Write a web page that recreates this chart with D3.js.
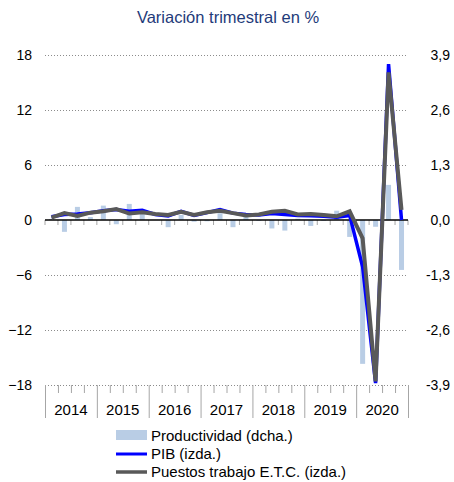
<!DOCTYPE html>
<html><head><meta charset="utf-8">
<script src="https://cdn.jsdelivr.net/npm/d3@7"></script>
<style>body{margin:0;background:#fff;font-family:"Liberation Sans",Arial,sans-serif}</style>
</head><body><svg id="c" width="454" height="482"></svg>
<script>
const years = ["2014","2015","2016","2017","2018","2019","2020"];
const quarters = years.flatMap(y => ["T1","T2","T3","T4"].map(q => y + q));
const pib = [0.35,0.6,0.65,0.8, 1.0,1.15,0.95,1.05, 0.6,0.45,0.95,0.5, 0.8,1.15,0.75,0.6, 0.55,0.7,0.6,0.5, 0.45,0.4,0.3,0.5, -5.1,-17.8,17.0,0.0];
const empleo = [0.25,0.75,0.45,0.8, 0.95,1.2,0.7,0.85, 0.65,0.55,0.9,0.55, 0.85,1.0,0.75,0.5, 0.6,0.9,1.0,0.6, 0.65,0.55,0.4,0.95, -2.0,-17.6,16.1,1.1];
const productividad = [0.02,-0.28,0.31,0.07, 0.34,-0.1,0.38,0.14, 0.0,-0.17,0.12,-0.04, -0.03,0.16,-0.17,0.08, -0.02,-0.2,-0.25,0.03, -0.14,-0.02,0.22,-0.4, -3.4,-0.16,0.83,-1.18];
const leftTicks = [-18,-12,-6,0,6,12,18];
const rightTicks = [-3.9,-2.6,-1.3,0,1.3,2.6,3.9];
const legendLabels = ["Productividad (dcha.)","PIB (izda.)","Puestos trabajo E.T.C. (izda.)"];
const titleText = "Variación trimestral en %";

const svg = d3.select("#c");
const X0 = 45, X1 = 408, YT = 55, YB = 385;
const x = d3.scaleBand().domain(quarters).range([X0, X1]);
const yL = d3.scaleLinear().domain([-18,18]).range([YB, YT]);
const yR = d3.scaleLinear().domain([-3.9,3.9]).range([YB, YT]);
const blue = "#0000FF", gray = "#595959", barC = "#B9CDE5";

svg.append("text").attr("x",228).attr("y",23).attr("text-anchor","middle")
  .attr("font-size",16.5).attr("fill","#1F3B7A").text(titleText);

// gridlines
svg.append("g").selectAll("line").data(leftTicks.filter(d => d !== 0)).join("line")
  .attr("x1",X0).attr("x2",X1).attr("y1",d=>yL(d)+0.5).attr("y2",d=>yL(d)+0.5)
  .attr("stroke","#8c8c8c").attr("stroke-width",1).attr("stroke-dasharray","1,2");

// left axis
const gl = svg.append("g").attr("transform",`translate(${X0},0)`)
  .call(d3.axisLeft(yL).tickValues(leftTicks).tickSize(0).tickPadding(13).tickFormat(d3.format("d")));
gl.select(".domain").remove();
gl.selectAll("text").attr("font-size",14).attr("fill","#000").attr("font-family","Liberation Sans, Arial");

// right axis
const gr = svg.append("g").attr("transform",`translate(${X1},0)`)
  .call(d3.axisRight(yR).tickValues(rightTicks).tickSize(0).tickFormat(d => d3.format(".1f")(d).replace(".",",").replace("−","-")));
gr.select(".domain").remove();
gr.selectAll("text").attr("x",42).attr("text-anchor","end").attr("font-size",14).attr("fill","#000").attr("font-family","Liberation Sans, Arial");

// bars
const bw = 5;
svg.append("g").selectAll("rect").data(productividad).join("rect")
  .attr("x",(d,i)=>x(quarters[i]) + x.bandwidth()/2 - bw/2)
  .attr("width",bw)
  .attr("y",d=>Math.min(yR(d),yR(0)))
  .attr("height",d=>Math.abs(yR(d)-yR(0)))
  .attr("fill",barC);

// zero line with ticks
const boundaries = quarters.map(q => x(q)).concat([X1]);
svg.append("g").selectAll("line").data(boundaries).join("line")
  .attr("x1",d=>d).attr("x2",d=>d).attr("y1",yL(0)).attr("y2",yL(0)+5)
  .attr("stroke","#a6a6a6").attr("stroke-width",1);
svg.append("line").attr("x1",X0).attr("x2",X1).attr("y1",yL(0)).attr("y2",yL(0))
  .attr("stroke","#000").attr("stroke-width",1.5);

// bottom ticks
svg.append("g").selectAll("line").data(boundaries).join("line")
  .attr("x1",d=>d+0.5).attr("x2",d=>d+0.5).attr("y1",YB)
  .attr("y2",(d,i)=> i%4===0 ? YB+33 : YB+8)
  .attr("stroke","#a6a6a6").attr("stroke-width",1);

// year labels
svg.append("g").selectAll("text").data(years).join("text")
  .attr("x",(d,i)=> (x(d+"T1") + x(d+"T4") + x.bandwidth())/2)
  .attr("y",415).attr("text-anchor","middle").attr("font-size",15).attr("fill","#000").text(d=>d);

// lines
const lineL = d3.line().x((d,i)=>x(quarters[i])+x.bandwidth()/2).y(d=>yL(d));
svg.append("path").datum(pib).attr("d",lineL).attr("fill","none").attr("stroke",blue).attr("stroke-width",3.5);
svg.append("path").datum(empleo).attr("d",lineL).attr("fill","none").attr("stroke",gray).attr("stroke-width",4);

// legend
const lg = svg.append("g");
lg.append("rect").attr("x",116).attr("y",430).attr("width",31).attr("height",10).attr("fill",barC);
lg.append("line").attr("x1",116).attr("x2",147).attr("y1",454).attr("y2",454).attr("stroke",blue).attr("stroke-width",3);
lg.append("line").attr("x1",116).attr("x2",147).attr("y1",472).attr("y2",472).attr("stroke",gray).attr("stroke-width",3.5);
lg.selectAll("text").data(legendLabels).join("text")
  .attr("x",151).attr("y",(d,i)=>441 + i*18).attr("font-size",15).attr("fill","#000").text(d=>d);
</script></body></html>
